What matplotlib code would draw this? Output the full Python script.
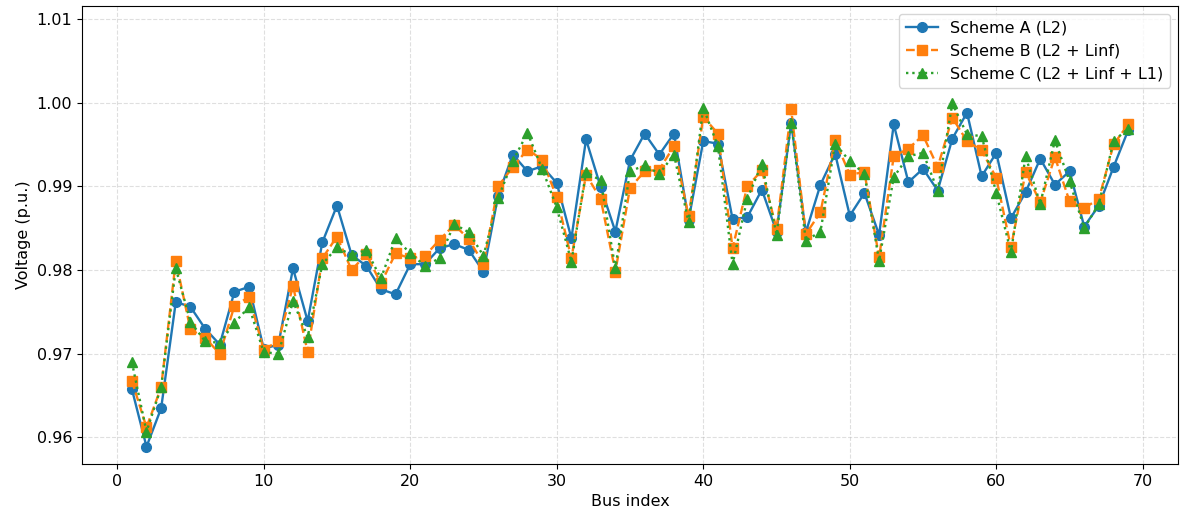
import matplotlib
matplotlib.use('Agg')
import matplotlib.pyplot as plt
import numpy as np

# bus voltages (p.u.)
bus = np.arange(1, 70)

scheme_a = [0.9658, 0.9589, 0.9635, 0.9762, 0.9756, 0.9730, 0.9711, 0.9774, 0.9780, 0.9706,
            0.9711, 0.9802, 0.9739, 0.9833, 0.9877, 0.9818, 0.9805, 0.9777, 0.9771, 0.9807,
            0.9807, 0.9826, 0.9831, 0.9824, 0.9798, 0.9889, 0.9938, 0.9918, 0.9924, 0.9904,
            0.9838, 0.9956, 0.9899, 0.9846, 0.9931, 0.9963, 0.9938, 0.9963, 0.9860, 0.9954,
            0.9951, 0.9861, 0.9863, 0.9896, 0.9846, 0.9976, 0.9845, 0.9902, 0.9939, 0.9865,
            0.9892, 0.9842, 0.9974, 0.9905, 0.9921, 0.9895, 0.9957, 0.9988, 0.9912, 0.9940,
            0.9862, 0.9893, 0.9933, 0.9902, 0.9918, 0.9852, 0.9877, 0.9923, 0.9967]

scheme_b = [0.9668, 0.9612, 0.9660, 0.9811, 0.9729, 0.9719, 0.9700, 0.9757, 0.9768, 0.9705,
            0.9715, 0.9781, 0.9702, 0.9814, 0.9840, 0.9800, 0.9819, 0.9784, 0.9820, 0.9814,
            0.9817, 0.9836, 0.9854, 0.9837, 0.9807, 0.9900, 0.9923, 0.9944, 0.9932, 0.9887,
            0.9814, 0.9914, 0.9885, 0.9798, 0.9898, 0.9918, 0.9920, 0.9948, 0.9864, 0.9983,
            0.9963, 0.9826, 0.9900, 0.9919, 0.9849, 0.9992, 0.9843, 0.9869, 0.9955, 0.9914,
            0.9917, 0.9815, 0.9936, 0.9945, 0.9961, 0.9923, 0.9982, 0.9954, 0.9943, 0.9910,
            0.9827, 0.9917, 0.9881, 0.9935, 0.9882, 0.9874, 0.9885, 0.9950, 0.9974]

scheme_c = [0.9690, 0.9607, 0.9660, 0.9802, 0.9738, 0.9715, 0.9713, 0.9737, 0.9756, 0.9702,
            0.9700, 0.9763, 0.9720, 0.9807, 0.9827, 0.9818, 0.9824, 0.9790, 0.9838, 0.9820,
            0.9805, 0.9814, 0.9855, 0.9845, 0.9817, 0.9886, 0.9930, 0.9964, 0.9921, 0.9875,
            0.9810, 0.9917, 0.9907, 0.9802, 0.9918, 0.9925, 0.9915, 0.9938, 0.9857, 0.9994,
            0.9948, 0.9807, 0.9885, 0.9927, 0.9842, 0.9976, 0.9835, 0.9846, 0.9951, 0.9930,
            0.9915, 0.9811, 0.9911, 0.9936, 0.9940, 0.9895, 0.9999, 0.9962, 0.9960, 0.9892,
            0.9821, 0.9936, 0.9879, 0.9955, 0.9906, 0.9850, 0.9879, 0.9954, 0.9969]

# original looks rendered a bit larger than default, scale everything up
plt.rcParams['font.size'] = 11.5
plt.rcParams['lines.linewidth'] = 1.7
plt.rcParams['lines.markersize'] = 7

fig = plt.figure(figsize=(11.82, 5.17), dpi=100)
ax = fig.add_axes([0.0694, 0.1025, 0.9272, 0.886])

ax.plot(bus, scheme_a, '-o', color='tab:blue', label='Scheme A (L2)')
ax.plot(bus, scheme_b, '--s', color='tab:orange', label='Scheme B (L2 + Linf)')
ax.plot(bus, scheme_c, ':^', color='tab:green', label='Scheme C (L2 + Linf + L1)')

ax.set_ylim(0.95683, 1.01155)
ax.set_xlabel('Bus index')
ax.set_ylabel('Voltage (p.u.)')
ax.grid(True, linestyle='--', alpha=0.4)
ax.legend(loc='upper right')

fig.savefig('out.png', dpi=100)
